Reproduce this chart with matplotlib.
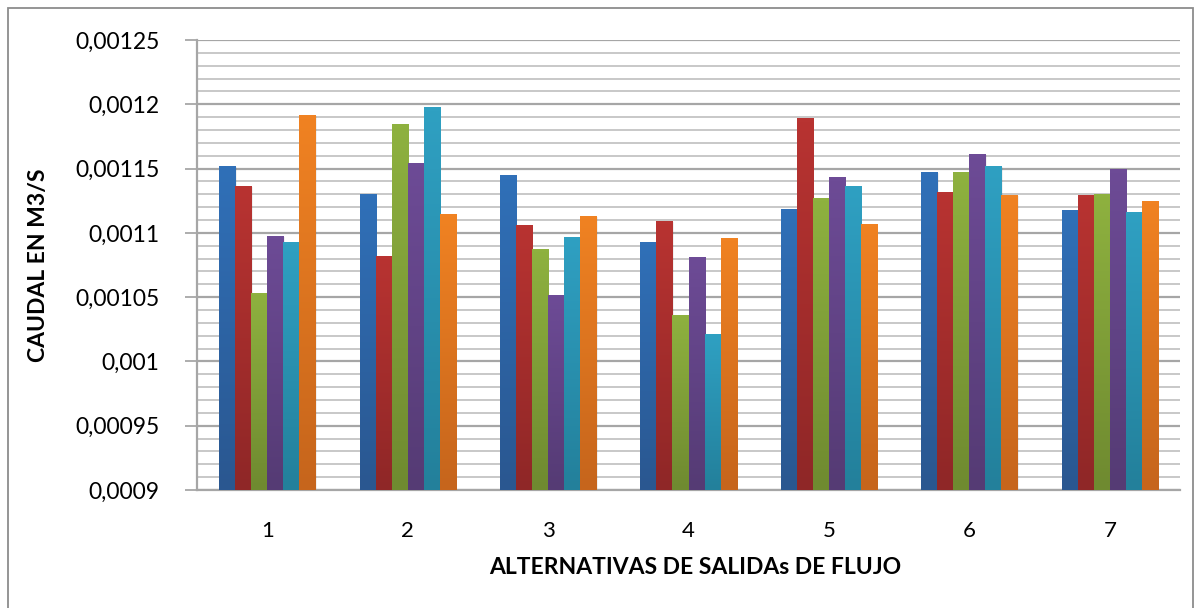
import numpy as np
import matplotlib.pyplot as plt
from matplotlib.patches import Rectangle
from matplotlib.ticker import MultipleLocator, FuncFormatter
from matplotlib.colors import LinearSegmentedColormap

###########################################################
# data

categories = ['1', '2', '3', '4', '5', '6', '7']

serie_1 = [0.0011518, 0.0011301, 0.0011448, 0.0010927, 0.0011184, 0.0011472, 0.0011176]
serie_2 = [0.0011363, 0.0010819, 0.0011060, 0.0011091, 0.0011891, 0.0011316, 0.0011293]
serie_3 = [0.0010531, 0.0011845, 0.0010873, 0.0010360, 0.0011269, 0.0011472, 0.0011301]
serie_4 = [0.0010974, 0.0011541, 0.0010516, 0.0010811, 0.0011433, 0.0011611, 0.0011495]
serie_5 = [0.0010927, 0.0011977, 0.0010966, 0.0010212, 0.0011363, 0.0011518, 0.0011161]
serie_6 = [0.0011915, 0.0011145, 0.0011130, 0.0010959, 0.0011067, 0.0011293, 0.0011246]

series = [serie_1, serie_2, serie_3, serie_4, serie_5, serie_6]

# (top colour, bottom colour) for the office-like gradient
colors = [('#3070b8', '#2a5790'),
          ('#b83331', '#8f2727'),
          ('#8eb13f', '#6f8a30'),
          ('#6d4b96', '#553b74'),
          ('#2fa0c2', '#23809b'),
          ('#f08222', '#c6651c')]

ymin, ymax = 0.0009, 0.00125

###########################################################
# plot

plt.rcParams['font.family'] = ['Lato', 'DejaVu Sans']

fig = plt.figure(figsize=(12.01, 6.08), dpi=100)
ax = fig.add_axes([197/1201, 1 - 490/608, (1180-197)/1201, (490-40)/608])

x = np.arange(len(categories))
bar_w = 0.114
n = len(series)

grad = np.linspace(1, 0, 64).reshape(-1, 1)
for i, (vals, (c_top, c_bot)) in enumerate(zip(series, colors)):
    cmap = LinearSegmentedColormap.from_list('g%d' % i, [c_bot, c_top])
    offs = (i - (n - 1) / 2) * bar_w
    for xi, v in zip(x, vals):
        x0 = xi + offs - bar_w / 2
        # soft shadow
        ax.add_patch(Rectangle((x0 + 0.01, ymin), bar_w, v - ymin - 0.0000005,
                               facecolor='#000000', alpha=0.06, lw=0, zorder=2))
        ax.imshow(grad, cmap=cmap, aspect='auto', extent=(x0, x0 + bar_w, ymin, v),
                  zorder=3, interpolation='bilinear')

ax.set_xlim(-0.5, len(categories) - 0.5)
ax.set_ylim(ymin, ymax)

ax.yaxis.set_major_locator(MultipleLocator(0.00005))
ax.yaxis.set_minor_locator(MultipleLocator(0.00001))
ax.yaxis.set_major_formatter(FuncFormatter(lambda v, p: ('%.5f' % v).rstrip('0').replace('.', ',')))
ax.grid(True, which='major', axis='y', color='#a6a6a6', lw=1.6, zorder=1)
ax.grid(True, which='minor', axis='y', color='#c8c8c8', lw=1.4, zorder=1)
ax.set_axisbelow(True)

ax.set_xticks(x)
ax.set_xticklabels(categories)
ax.tick_params(axis='x', length=0, pad=22, labelsize=16)
ax.tick_params(axis='y', which='major', length=9, color='#a0a0a0', width=1.2, pad=18, labelsize=16.5)
ax.tick_params(axis='y', which='minor', length=0)

for s in ['top', 'right']:
    ax.spines[s].set_visible(False)
ax.spines['left'].set_color('#a6a6a6')
ax.spines['left'].set_linewidth(1.6)
ax.spines['bottom'].set_color('#a6a6a6')
ax.spines['bottom'].set_linewidth(1.6)

fig.text(695/1201, 1 - 567/608, 'ALTERNATIVAS DE SALIDAs DE FLUJO', ha='center', va='center',
         fontsize=16.5, fontweight='bold')
fig.text(38/1201, 1 - 265/608, 'CAUDAL EN M3/S', ha='center', va='center', rotation=90,
         fontsize=16.5, fontweight='bold')

# chart frame
fig.patches.append(Rectangle((8/1201, -0.02), 1185/1201, 1.02 - 8/608, transform=fig.transFigure,
                             fill=False, edgecolor='#8c8c8c', lw=1.3))

fig.savefig('out.png', dpi=100)
